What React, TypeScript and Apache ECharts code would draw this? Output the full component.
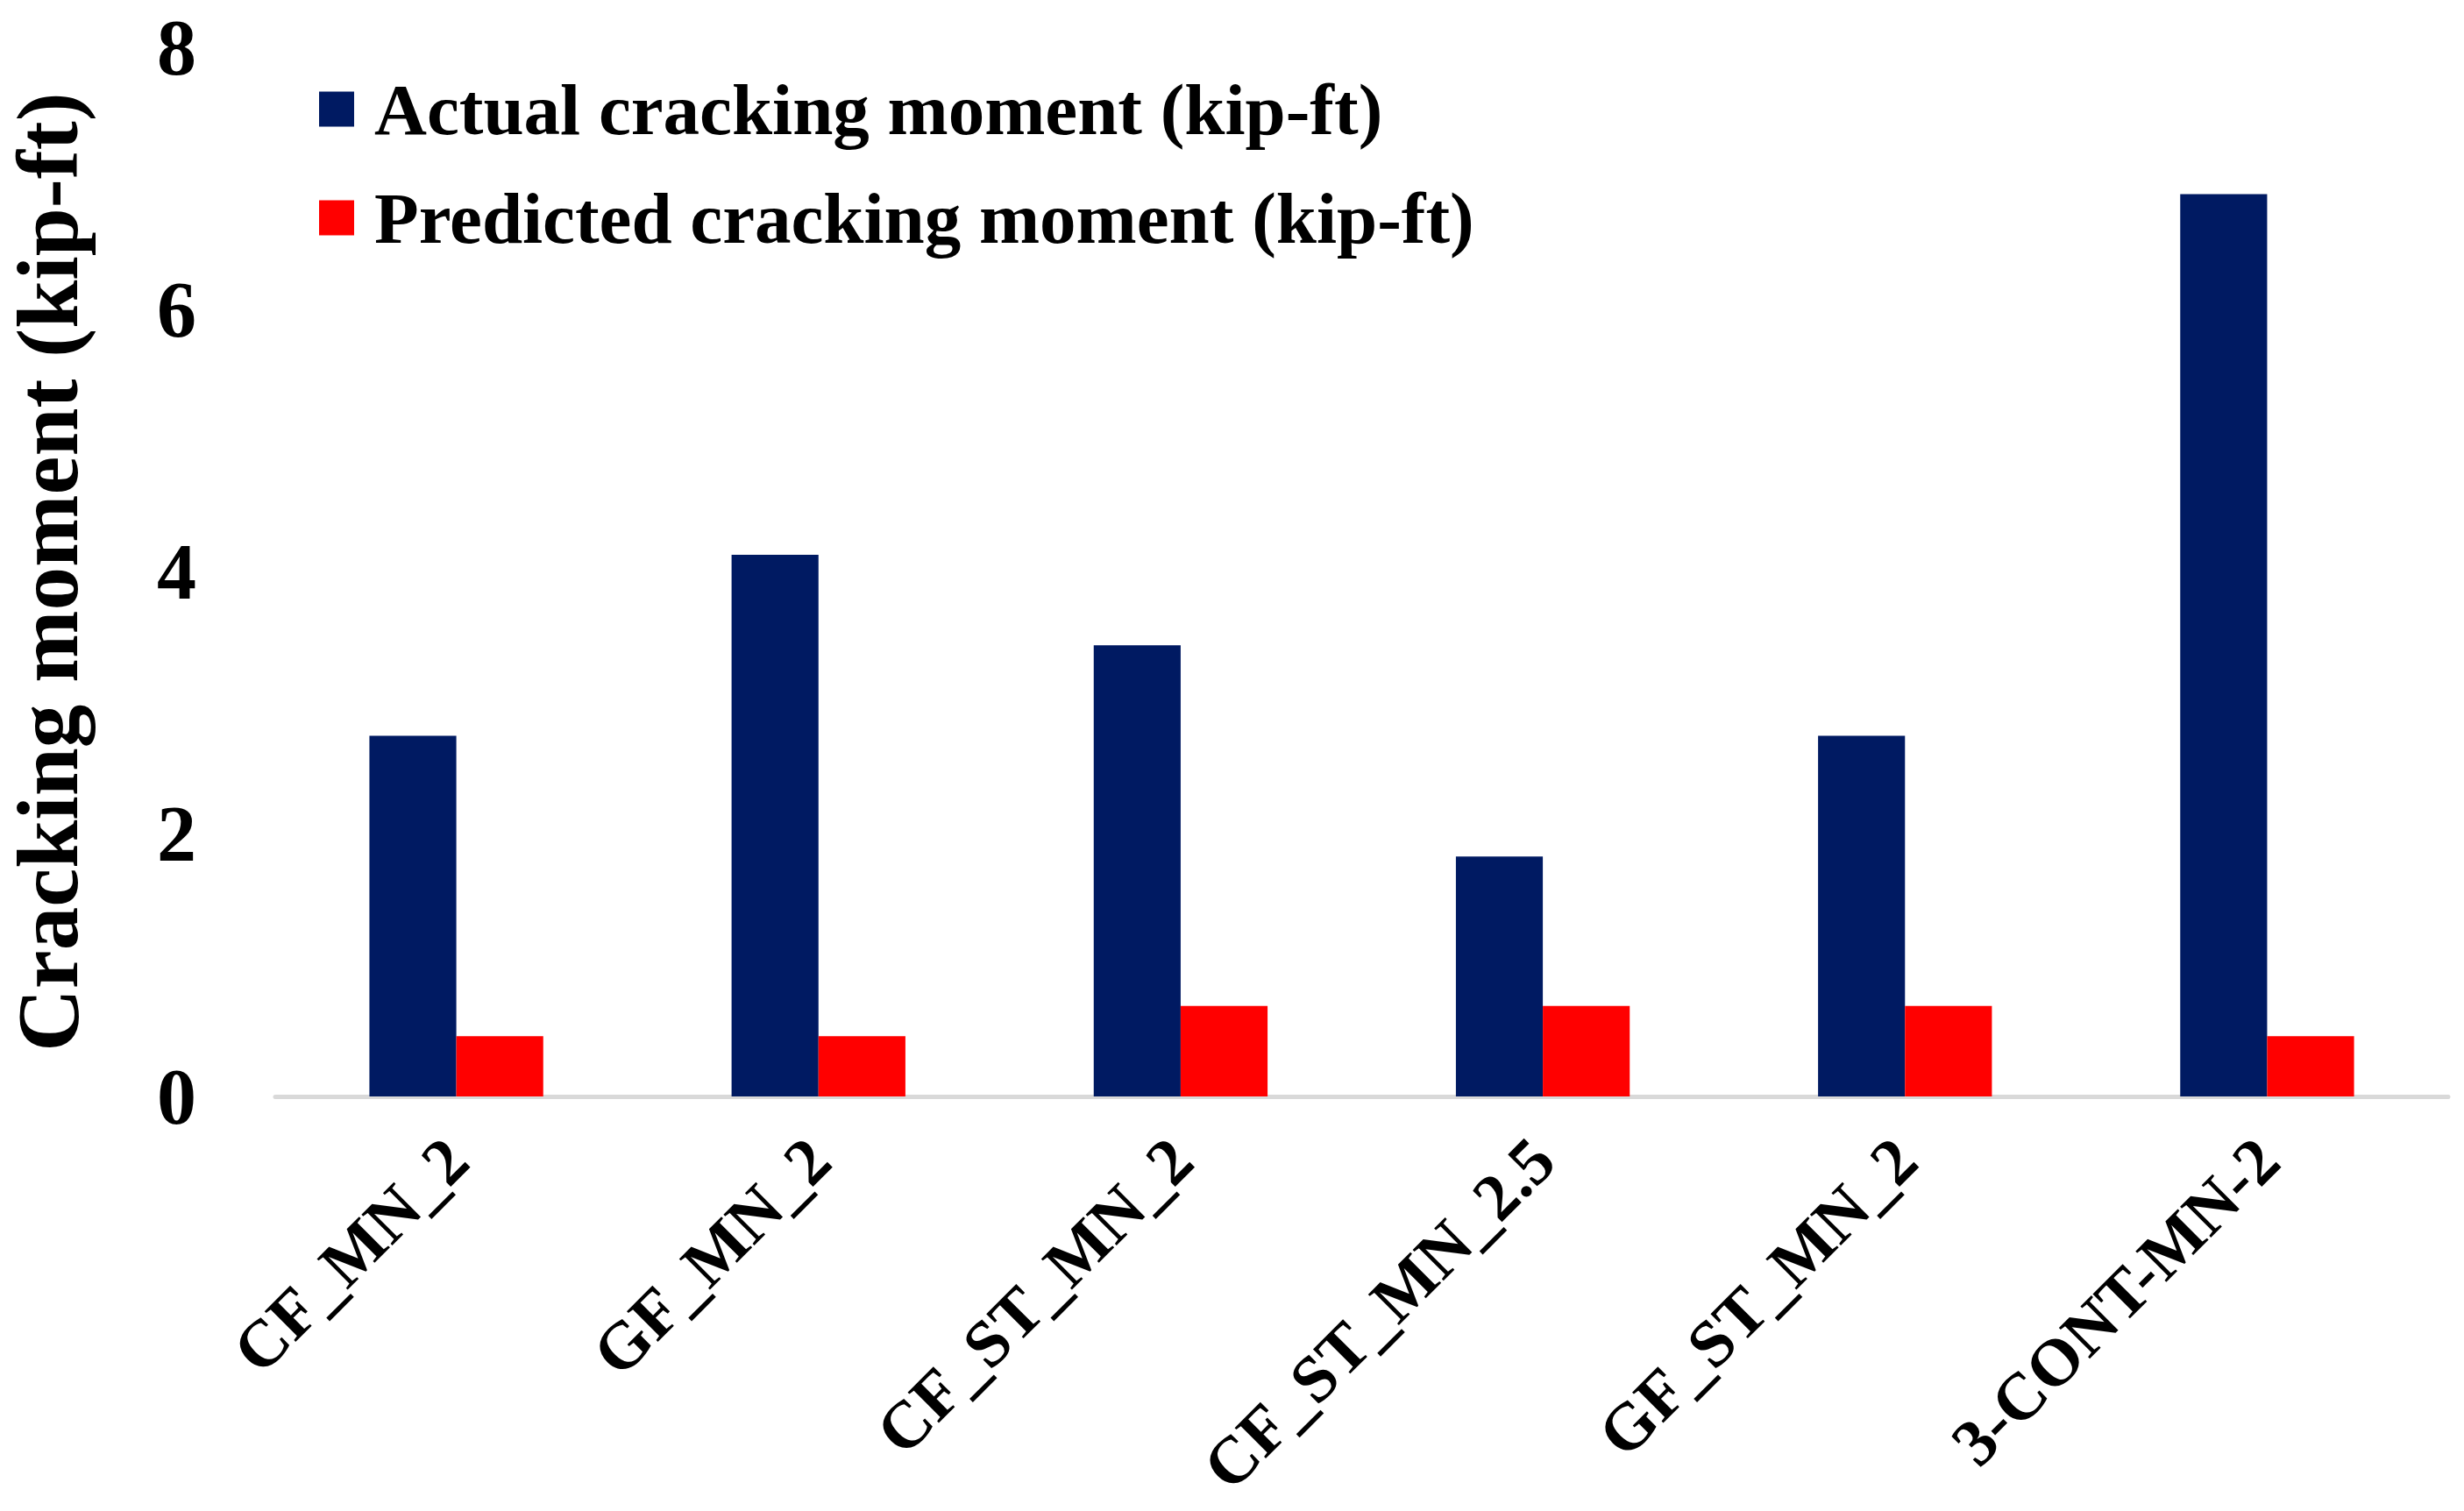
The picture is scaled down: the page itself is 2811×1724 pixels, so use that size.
import React, { useEffect, useRef } from "react";
import * as echarts from "echarts";

const categories = ["CF_MN_2", "GF_MN_2", "CF_ST_MN_2", "CF_ST_MN_2.5", "GF_ST_MN_2", "3-CONT-MN-2"];
const actualMoment = [2.75, 4.13, 3.44, 1.83, 2.75, 6.88];
const predictedMoment = [0.46, 0.46, 0.69, 0.69, 0.69, 0.46];
const seriesNames = ["Actual cracking moment (kip-ft)", "Predicted cracking moment (kip-ft)"];
const yAxisName = "Cracking moment (kip-ft)";

const FONT = "'Liberation Serif', 'Times New Roman', serif";

export default function App() {
  const ref = useRef<HTMLDivElement>(null);
  useEffect(() => {
    if (!ref.current) return;
    document.body.style.margin = "0";
    const chart = echarts.init(ref.current, undefined, { renderer: "svg" });
    chart.setOption({
      animation: false,
      backgroundColor: "#ffffff",
      grid: {
        left: 314,
        right: 18,
        top: 54,
        bottom: 473,
        containLabel: false,
        outerBoundsMode: "none",
      },
      legend: {
        orient: "vertical",
        left: 359,
        top: 78,
        itemWidth: 40,
        itemHeight: 40,
        itemGap: 41,
        icon: "rect",
        data: seriesNames,
        textStyle: {
          fontFamily: FONT,
          fontWeight: "bold",
          fontSize: 83,
          color: "#000000",
          lineHeight: 83,
          padding: [0, 0, 0, 18],
        },
      },
      xAxis: {
        type: "category",
        data: categories,
        axisLine: { show: true, lineStyle: { color: "#D9D9D9", width: 5 } },
        axisTick: { show: false },
        axisLabel: {
          rotate: 45,
          margin: 60,
          interval: 0,
          fontFamily: FONT,
          fontWeight: "bold",
          fontSize: 76,
          color: "#000000",
        },
      },
      yAxis: {
        type: "value",
        min: 0,
        max: 8,
        interval: 2,
        name: yAxisName,
        nameLocation: "middle",
        nameGap: 210,
        nameTextStyle: {
          fontFamily: FONT,
          fontWeight: "bold",
          fontSize: 99,
          lineHeight: 100,
          color: "#000000",
        },
        axisLine: { show: false },
        axisTick: { show: false },
        splitLine: { show: false },
        axisLabel: {
          margin: 90,
          fontFamily: FONT,
          fontWeight: "bold",
          fontSize: 90,
          color: "#000000",
        },
      },
      series: [
        {
          name: seriesNames[0],
          type: "bar",
          data: actualMoment,
          barWidth: "24%",
          barGap: "0%",
          itemStyle: { color: "#001A62" },
        },
        {
          name: seriesNames[1],
          type: "bar",
          data: predictedMoment,
          barWidth: "24%",
          barGap: "0%",
          itemStyle: { color: "#FF0000" },
        },
      ],
    });
    return () => chart.dispose();
  }, []);
  return <div ref={ref} style={{ width: 2811, height: 1724 }} />;
}
